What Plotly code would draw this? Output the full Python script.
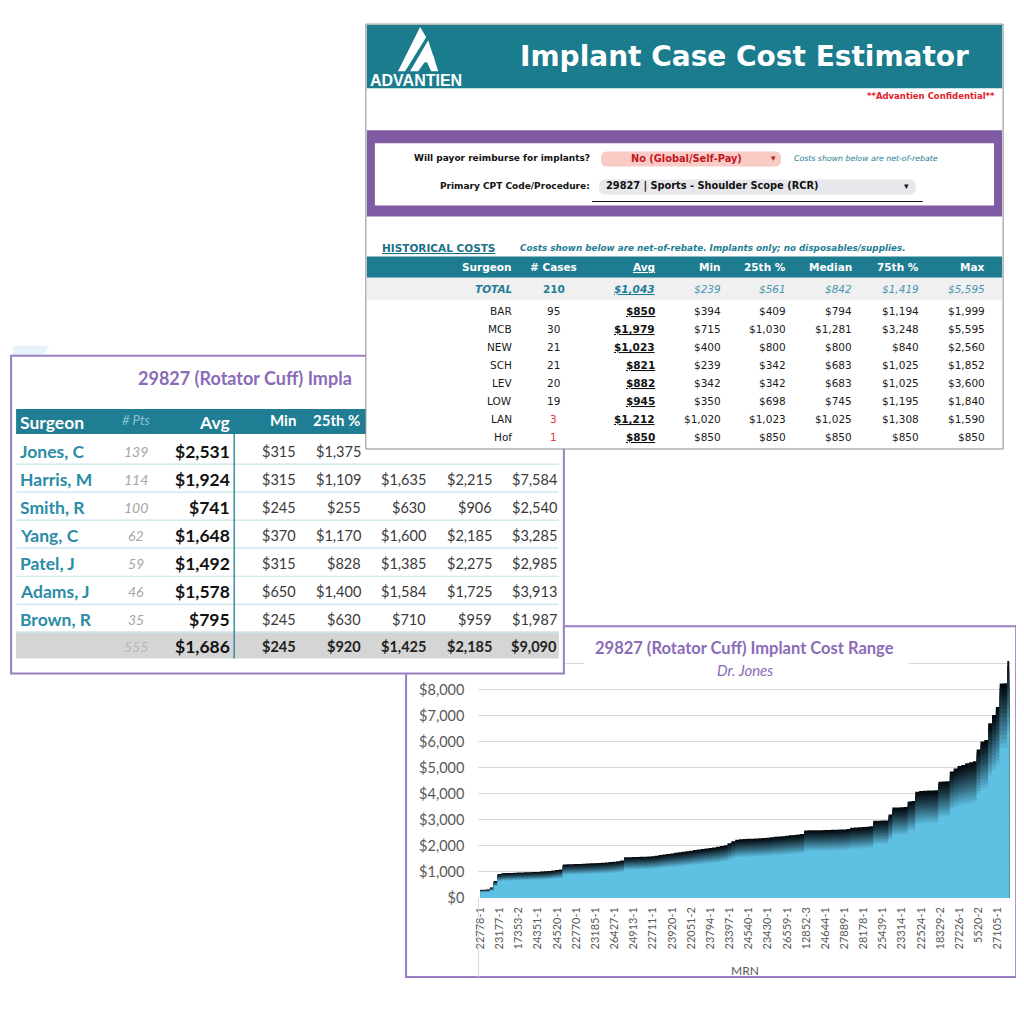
import plotly.graph_objects as go

# ---------------- DATA ----------------
mrn_tick_labels = ['22778-1', '23177-1', '17353-2', '24351-1', '24520-1', '22770-1', '23185-1',
                   '26427-1', '24913-1', '22711-1', '23920-1', '22051-2', '23794-1', '23397-1',
                   '24540-1', '23430-1', '26559-1', '12852-3', '24644-1', '27889-1', '28178-1',
                   '25439-1', '23314-1', '22524-1', '18329-2', '27226-1', '5520-2', '27105-1']

jones_costs = [315, 315, 320, 400, 650, 920, 950, 955, 960, 965,
               975, 980, 985, 990, 995, 1000, 1010, 1020, 1030, 1050,
               1070, 1090, 1280, 1290, 1295, 1300, 1305, 1310, 1320, 1330,
               1335, 1340, 1350, 1360, 1375, 1390, 1410, 1440, 1560, 1565,
               1570, 1575, 1580, 1585, 1590, 1600, 1620, 1650, 1670, 1690,
               1710, 1730, 1750, 1770, 1790, 1810, 1840, 1860, 1880, 1900,
               1920, 1940, 1960, 1990, 2020, 2100, 2180, 2230, 2250, 2260,
               2270, 2275, 2280, 2290, 2300, 2310, 2330, 2350, 2360, 2370,
               2390, 2410, 2420, 2430, 2450, 2590, 2595, 2600, 2600, 2600,
               2605, 2610, 2615, 2620, 2625, 2630, 2650, 2690, 2700, 2710,
               2720, 2730, 2750, 2960, 2965, 2970, 2975, 3200, 3470, 3475,
               3480, 3490, 3700, 3720, 4080, 4100, 4110, 4120, 4125, 4130,
               4460, 4470, 4480, 4850, 4970, 5060, 5100, 5170, 5210, 5250,
               5700, 6000, 6060, 6700, 7020, 7330, 8230, 8240, 9090]

y_tick_values = [0, 1000, 2000, 3000, 4000, 5000, 6000, 7000, 8000, 9000, 10000]
y_tick_labels = ['$0', '$1,000', '$2,000', '$3,000', '$4,000', '$5,000', '$6,000', '$7,000', '$8,000', '', '']

# top table (Historical costs)
top_surgeons = ['BAR', 'MCB', 'NEW', 'SCH', 'LEV', 'LOW', 'LAN', 'Hof']
top_cases = [95, 30, 21, 21, 20, 19, 3, 1]
top_avg = [850, 1979, 1023, 821, 882, 945, 1212, 850]
top_min = [394, 715, 400, 239, 342, 350, 1020, 850]
top_p25 = [409, 1030, 800, 342, 342, 698, 1023, 850]
top_med = [794, 1281, 800, 683, 683, 745, 1025, 850]
top_p75 = [1194, 3248, 840, 1025, 1025, 1195, 1308, 850]
top_max = [1999, 5595, 2560, 1852, 3600, 1840, 1590, 850]
top_total = [210, 1043, 239, 561, 842, 1419, 5595]
top_headers = ['Surgeon', '# Cases', 'Avg', 'Min', '25th %', 'Median', '75th %', 'Max']

# left table (29827 Rotator Cuff)
left_surgeons = ['Jones, C', 'Harris, M', 'Smith, R', 'Yang, C', 'Patel, J', 'Adams, J', 'Brown, R']
left_pts = [139, 114, 100, 62, 59, 46, 35]
left_avg = [2531, 1924, 741, 1648, 1492, 1578, 795]
left_min = [315, 315, 245, 370, 315, 650, 245]
left_p25 = [1375, 1109, 255, 1170, 828, 1400, 630]
left_med = [2275, 1635, 630, 1600, 1385, 1584, 710]
left_p75 = [2848, 2215, 906, 2185, 2275, 1725, 959]
left_max = [9090, 7584, 2540, 3285, 2985, 3913, 1987]
left_total = [555, 1686, 245, 920, 1425, 2185, 9090]

# ---------------- HELPERS ----------------
OFF = 8                     # page body margin
W = H = 1024 - 2 * OFF
SX, DX = 0.99, 6            # empirical screen mapping correction
SY, DY = 0.99, 0
def fx(x): return (x - DX) / SX - OFF
def fy(y): return (y - DY) / SY - OFF
def px(x): return fx(x) / W
def py(y): return 1 - fy(y) / H
def money(v): return '${:,}'.format(v)

shapes = []
annots = []

def rect(x0, y0, x1, y1, fill=None, line=None, lw=0, layer='above'):
    shapes.append(dict(type='rect', xref='paper', yref='paper',
                       x0=px(x0), x1=px(x1), y0=py(y1), y1=py(y0),
                       fillcolor=fill or 'rgba(0,0,0,0)',
                       line=dict(color=line or 'rgba(0,0,0,0)', width=lw), layer=layer))

def seg(x0, y0, x1, y1, color, lw=1, layer='above'):
    shapes.append(dict(type='line', xref='paper', yref='paper',
                       x0=px(x0), x1=px(x1), y0=py(y0), y1=py(y1),
                       line=dict(color=color, width=lw), layer=layer))

def poly(pts, fill, layer='above'):
    d = 'M ' + ' L '.join('{:.5f},{:.5f}'.format(px(a), py(b)) for a, b in pts) + ' Z'
    shapes.append(dict(type='path', xref='paper', yref='paper', path=d,
                       fillcolor=fill, line=dict(width=0), layer=layer))

def rrect(x0, y0, x1, y1, r, fill, layer='above'):
    P = lambda a, b: '{:.5f},{:.5f}'.format(px(a), py(b))
    d = ('M ' + P(x0 + r, y0) + ' L ' + P(x1 - r, y0) + ' Q ' + P(x1, y0) + ' ' + P(x1, y0 + r) +
         ' L ' + P(x1, y1 - r) + ' Q ' + P(x1, y1) + ' ' + P(x1 - r, y1) +
         ' L ' + P(x0 + r, y1) + ' Q ' + P(x0, y1) + ' ' + P(x0, y1 - r) +
         ' L ' + P(x0, y0 + r) + ' Q ' + P(x0, y0) + ' ' + P(x0 + r, y0) + ' Z')
    shapes.append(dict(type='path', xref='paper', yref='paper', path=d,
                       fillcolor=fill, line=dict(width=0), layer=layer))

def txt(x, y, s, size, color, family, anchor='left', weight='normal', style='normal'):
    annots.append(dict(xref='paper', yref='paper', x=px(x), y=py(y), text=s, showarrow=False,
                       xanchor=anchor, yanchor='middle', borderpad=0,
                       font=dict(size=size, color=color, family=family, weight=weight, style=style)))

LATO = 'Lato, Open Sans, sans-serif'
DJV = 'DejaVu Sans, Verdana, sans-serif'
PURPLE_T = '#8B6BB8'
PURPLE_B = '#9A7EC4'

# ---------------- FIGURE / CHART ----------------
fig = go.Figure()
idx = list(range(len(jones_costs)))
dark = (4, 10, 15)
blue = (94, 192, 227)
n_layers = 16
for k in range(n_layers):
    t = k / (n_layers - 1)
    f = 1 - 0.30 * t
    m = t ** 1.15
    col = 'rgb({},{},{})'.format(*[int(round(dark[j] + (blue[j] - dark[j]) * m)) for j in range(3)])
    fig.add_trace(go.Scatter(x=idx, y=[v * f for v in jones_costs], mode='lines',
                             line=dict(width=0, shape='hvh'), fill='tozeroy', fillcolor=col,
                             hoverinfo='skip', showlegend=False))

fig.update_layout(
    width=W, height=H, margin=dict(l=0, r=0, t=0, b=0),
    paper_bgcolor='white', plot_bgcolor='rgba(0,0,0,0)', showlegend=False,
    xaxis=dict(domain=[px(477), px(1007)], range=[-0.5, len(jones_costs) - 0.5],
               tickmode='array', tickvals=[5 * k for k in range(len(mrn_tick_labels))],
               ticktext=mrn_tick_labels, tickangle=-90, ticks='', showgrid=False,
               zeroline=False, showline=False, ticklabelstandoff=6,
               tickfont=dict(family=LATO, size=11, color='#595959')),
    yaxis=dict(domain=[py(896), py(636)], range=[0, 10000], tickmode='array',
               tickvals=y_tick_values, ticktext=y_tick_labels, showgrid=True,
               gridcolor='#D9D9D9', gridwidth=1, zeroline=False, ticks='', showline=False,
               ticklabelstandoff=13, tickfont=dict(family=LATO, size=14.5, color='#595959')),
)

# faint decoration at left
poly([(14, 345), (50, 345), (18, 398), (14, 405)], '#E6F3F8', layer='below')

# chart panel
rect(405, 625, 1012, 975, line=PURPLE_B, lw=2, layer='below')
rect(582, 630, 905, 683, fill='white')
seg(477, 896, 477, 975, '#D9D9D9', 1)
txt(742, 647, '29827 (Rotator Cuff) Implant Cost Range', 16.5, PURPLE_T, LATO, 'center', 'bold')
txt(742, 669, 'Dr. Jones', 15, PURPLE_T, LATO, 'center', 'normal', 'italic')
txt(742, 968, 'MRN', 12, '#595959', LATO, 'center')

# ---------------- LEFT PANEL ----------------
rect(12, 355, 562, 672, fill='white', line=PURPLE_B, lw=2)
rect(17, 408, 557, 433, fill='#1F7E93')
row_y = [450 + 28 * i for i in range(len(left_surgeons))]
rect(17, 630, 557, 657, fill='#D5D5D5')
for i in range(len(left_surgeons)):
    seg(17, row_y[i] + 13, 557, row_y[i] + 13, '#C9E4EC', 1.2)
seg(234, 433, 234, 657, '#3D8EA3', 1.5)

txt(137, 377, '29827 (Rotator Cuff) Impla', 18, PURPLE_T, LATO, 'left', 'bold')
txt(20, 422, 'Surgeon', 17.5, 'white', LATO, 'left', 'bold')
txt(136, 419, '# Pts', 13, '#8CC3D0', LATO, 'center', 'normal', 'italic')
txt(231, 422, 'Avg', 17.5, 'white', LATO, 'right', 'bold')
txt(296, 419, 'Min', 15, 'white', LATO, 'right', 'bold')
txt(360, 419, '25th %', 15, 'white', LATO, 'right', 'bold')

col_right = [296, 361, 426, 491, 556]
for i, name in enumerate(left_surgeons):
    y = row_y[i]
    txt(20, y, name, 17.5, '#2A8CA6', LATO, 'left', 'bold')
    txt(136, y, str(left_pts[i]), 14, '#A6A6A6', LATO, 'center', 'normal', 'italic')
    txt(231, y, money(left_avg[i]), 17.5, '#111111', LATO, 'right', 'bold')
    vals = [left_min[i], left_p25[i], left_med[i], left_p75[i], left_max[i]]
    for j, v in enumerate(vals):
        if i == 0 and j >= 2:
            continue  # hidden beneath the overlapping panel
        txt(col_right[j], y, money(v), 14.5, '#3A3A3A', LATO, 'right')
ty = 645
txt(136, ty, str(left_total[0]), 14, '#B5B5B5', LATO, 'center', 'normal', 'italic')
txt(231, ty, money(left_total[1]), 17.5, '#111111', LATO, 'right', 'bold')
for j, v in enumerate(left_total[2:]):
    txt(col_right[j], ty, money(v), 14.5, '#222222', LATO, 'right', 'bold')

# ---------------- TOP PANEL ----------------
rect(365, 24, 999, 448, fill='white', line='#8A8A8A', lw=1)
rect(366, 25, 998, 88, fill='#1B7C8E')
# logo
poly([(397, 71), (419, 27), (425, 37), (404, 71)], 'white')
poly([(409, 71), (427, 40), (437, 71), (430, 71), (425, 60), (417, 71)], 'white')
poly([(414, 62), (432, 55), (434, 62)], 'white')
txt(368, 80, 'ADVANTIEN', 16, 'white', 'Liberation Sans, Arial, sans-serif', 'left', 'bold')
txt(966, 56, 'Implant Case Cost Estimator', 28, 'white', DJV, 'right', 'bold')
txt(992, 96, '**Advantien Confidential**', 8.5, '#E0202A', DJV, 'right', 'bold')

rect(366, 130, 998, 216, fill='#7E5BA3')
rect(374, 143, 990, 205, fill='white')
txt(589, 158, 'Will payor reimburse for implants?', 9, '#111111', DJV, 'right', 'bold')
rrect(599, 151, 778, 166, 6, '#F8CBC5')
txt(684, 158, 'No (Global/Self-Pay)', 9.8, '#C3161E', DJV, 'center', 'bold')
txt(771, 158, '▾', 9, '#C3161E', DJV, 'center')
txt(790, 158, 'Costs shown below are net-of-rebate', 7.8, '#1F7E95', DJV, 'left', 'normal', 'italic')
txt(589, 186, 'Primary CPT Code/Procedure:', 9, '#111111', DJV, 'right', 'bold')
rrect(597, 179, 912, 194, 6, '#E7E7EC')
txt(603, 186, '29827 | Sports - Shoulder Scope (RCR)', 9.8, '#111111', DJV, 'left', 'bold')
txt(903, 186, '▾', 9, '#111111', DJV, 'center')
seg(590, 201, 919, 201, '#111111', 1.2)

txt(380, 247, '<u>HISTORICAL COSTS</u>', 10.5, '#1F6F87', DJV, 'left', 'bold')
txt(517, 247, 'Costs shown below are net-of-rebate. Implants only; no disposables/supplies.',
    8.8, '#1F7E95', DJV, 'left', 'bold', 'italic')

rect(366, 256, 998, 277, fill='#1E7C90')
rect(366, 277, 998, 299, fill='#F0F0F0')
top_right = [511, None, 654, 719, 784, 850, 916, 982]
hy = 266
for j, h in enumerate(top_headers):
    s = '<u>' + h + '</u>' if h == 'Avg' else h
    if j == 1:
        txt(552, hy, s, 10.5, 'white', DJV, 'center', 'bold')
    else:
        txt(top_right[j], hy, s, 10.5, 'white', DJV, 'right', 'bold')

TT = '#1F7E95'
TT2 = '#4796B0'
ty = 288
txt(511, ty, 'TOTAL', 10.5, TT, DJV, 'right', 'bold', 'italic')
txt(552, ty, str(top_total[0]), 10.5, TT, DJV, 'center', 'bold')
txt(654, ty, '<u>' + money(top_total[1]) + '</u>', 10.5, TT, DJV, 'right', 'bold', 'italic')
for j, v in enumerate(top_total[2:]):
    txt(top_right[3 + j], ty, money(v), 10.5, TT2, DJV, 'right', 'normal', 'italic')

for i, s in enumerate(top_surgeons):
    y = 310 + 18 * i
    txt(511, y, s, 10.5, '#1A1A1A', DJV, 'right')
    txt(552, y, str(top_cases[i]), 10.5, '#E03A3A' if top_cases[i] < 10 else '#1A1A1A', DJV, 'center')
    txt(654, y, '<u>' + money(top_avg[i]) + '</u>', 10.5, '#111111', DJV, 'right', 'bold')
    for j, v in enumerate([top_min[i], top_p25[i], top_med[i], top_p75[i], top_max[i]]):
        txt(top_right[3 + j], y, money(v), 10.5, '#1A1A1A', DJV, 'right')

fig.update_layout(shapes=shapes, annotations=annots)
fig.write_html('out.html')
